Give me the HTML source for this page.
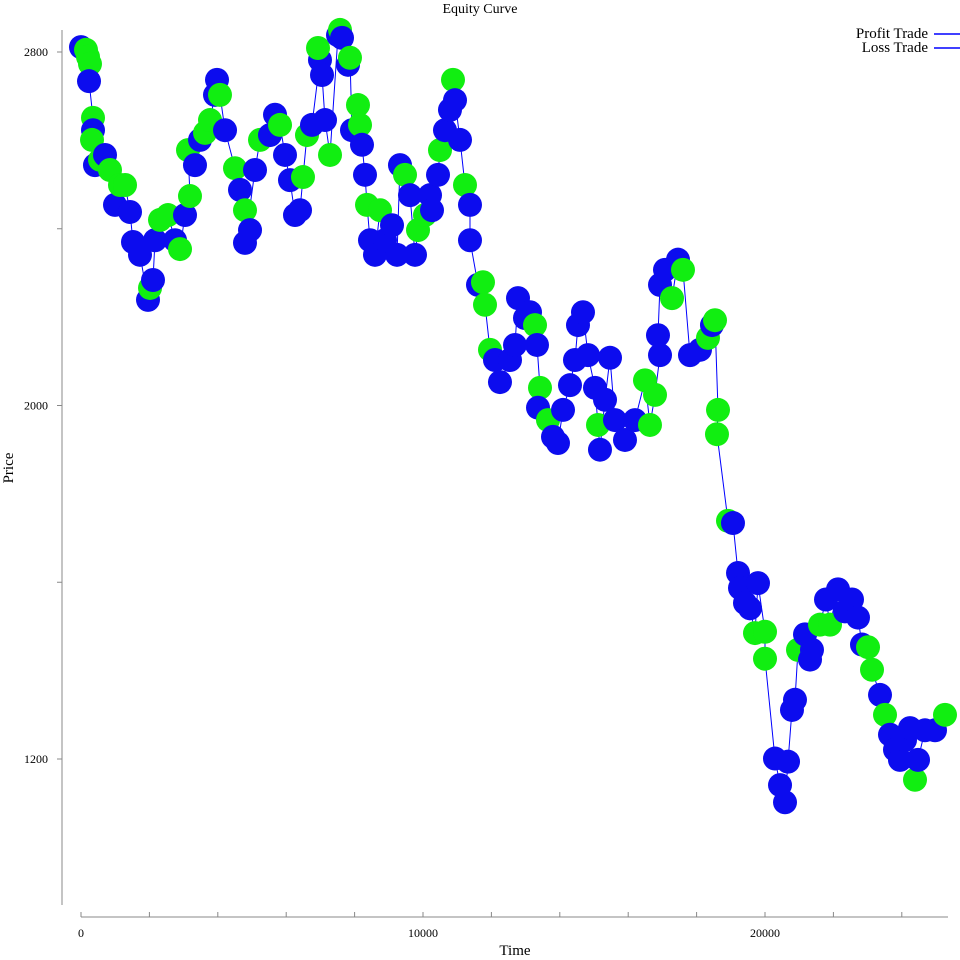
<!DOCTYPE html>
<html><head><meta charset="utf-8"><style>
body{margin:0;background:#fff}
svg{display:block;font-family:"Liberation Serif",serif}
</style></head><body>
<svg id="chart" width="960" height="960" viewBox="0 0 960 960">
<text x="480" y="13" text-anchor="middle" font-size="14">Equity Curve</text>
<text transform="translate(13,468) rotate(-90)" text-anchor="middle" font-size="15">Price</text>
<text x="515" y="955" text-anchor="middle" font-size="15">Time</text>
<g>
<text x="928" y="38" text-anchor="end" font-size="15">Profit Trade</text>
<line x1="934" x2="960" y1="34" y2="34" stroke="#0000ff" stroke-width="1.5"/>
<text x="928" y="52" text-anchor="end" font-size="15">Loss Trade</text>
<line x1="934" x2="960" y1="48" y2="48" stroke="#0000ff" stroke-width="1.5"/>
</g>
<g id="axes"></g>
<g id="series"></g>
</svg>
<script>
const times=[0,146,205,263,234,351,351,322,409,556,702,848,994,1140,1287,1433,1520,1725,1959,2018,2105,2164,2310,2544,2749,2895,3041,3187,3129,3333,3480,3626,3772,3918,3977,4064,4211,4503,4649,4795,4942,4795,5088,5234,5526,5673,5819,5965,6111,6257,6404,6491,6608,6754,6988,6930,7047,7135,7281,7515,7573,7632,7807,7865,7924,8099,8158,8216,8304,8363,8450,8596,8743,8889,9094,9240,9327,9474,9620,9766,9854,10058,10205,10263,10439,10497,10643,10789,10877,10936,11082,11228,11374,11374,11608,11754,11813,11959,12105,12251,12544,12690,12778,12982,13129,13275,13333,13421,13363,13655,13801,13947,14094,14298,14444,14532,14678,14825,15029,15117,15175,15322,15468,15614,15906,16199,16491,16637,16784,16930,16871,16930,17076,17281,17456,17602,17807,18099,18333,18450,18538,18626,18596,18918,19064,19211,19269,19415,19561,19708,19795,20000,20000,20292,20439,20585,20673,20789,20877,20965,21170,21316,21374,21608,21784,21901,22135,22339,22544,22719,22836,23012,23129,23363,23509,23655,23801,23947,24094,24240,24386,24474,24678,24971,25263];
const prices=[2811,2805,2789,2773,2734,2651,2623,2601,2544,2556,2567,2533,2454,2499,2499,2438,2370,2341,2239,2266,2284,2374,2420,2431,2374,2354,2431,2474,2578,2544,2601,2617,2646,2703,2737,2703,2623,2537,2488,2442,2397,2368,2533,2601,2612,2658,2635,2567,2510,2431,2442,2517,2612,2635,2782,2809,2748,2646,2567,2838,2850,2832,2771,2787,2623,2680,2635,2590,2522,2454,2374,2341,2442,2374,2408,2341,2544,2522,2476,2341,2397,2431,2476,2442,2522,2578,2623,2669,2737,2691,2601,2499,2454,2374,2273,2279,2228,2126,2103,2053,2103,2137,2243,2198,2211,2182,2137,2040,1995,1967,1929,1915,1990,2046,2103,2182,2211,2114,2040,1956,1900,2013,2108,1967,1922,1967,2057,1956,2024,2114,2159,2273,2307,2243,2330,2307,2114,2126,2153,2182,2193,1990,1935,1739,1734,1621,1587,1553,1541,1485,1598,1488,1427,1201,1141,1102,1194,1311,1334,1447,1482,1425,1447,1504,1561,1504,1584,1534,1561,1520,1459,1453,1402,1345,1300,1255,1221,1198,1243,1270,1153,1198,1265,1265,1300];
const outcomes="LPPPLPLPLPLPLPPLLLLPLLPPLPLPPLLPPLLPLPLPLLLPLLPLLLLPPLLPLLPLPLLPLPPLLPLLPLLLLPLLPPLLLPLLPLLPLLLPPPLLLLLLLPLPLPLLLLLLLLLPLLLLLLPPPLLLLPLPLLPLPPPPLLLLLPLPPLLLLLLPLLLPLPLLLLLPPLPLLLLLPLLLPLP";
const xTicks=[0,10000,20000], yTicks=[1200,2000,2800];
const X=t=>81+t*0.0342, Y=p=>52+(2800-p)*353.5/800;
const NS="http://www.w3.org/2000/svg";
const ax=document.getElementById('axes'), sr=document.getElementById('series');
function mk(tag,attrs,parent){const e=document.createElementNS(NS,tag);for(const k in attrs)e.setAttribute(k,attrs[k]);parent.appendChild(e);return e;}
let l=mk('line',{x1:62,x2:62,y1:30,y2:905,stroke:'#888'},ax);


l=mk('line',{x1:81,x2:948,y1:917,y2:917,stroke:'#888'},ax);


for(let t=0;t<=26000;t+=2000){const x=X(t);if(x>948)break;
 const tk=mk('line',{x1:x,x2:x,y1:912,y2:917,stroke:'#888'},ax);
 
 }
xTicks.forEach(t=>{const tx=mk('text',{x:X(t),y:937,'text-anchor':'middle','font-size':12},ax);tx.textContent=t;
 
 });
for(let p=800;p<=2800;p+=400){const y=Y(p);if(y>905)continue;
 const tk=mk('line',{x1:57,x2:62,y1:y,y2:y,stroke:'#888'},ax);
 
 }
yTicks.forEach(p=>{const tx=mk('text',{x:48,y:Y(p)+4,'text-anchor':'end','font-size':12},ax);tx.textContent=p;
 
 });
const pl=mk('polyline',{points:times.map((t,i)=>X(t)+','+Y(prices[i])).join(' '),fill:'none',stroke:'#0000ff','stroke-width':1},sr);


times.forEach((t,i)=>{const prof=outcomes[i]==='P';
 const c=mk('circle',{cx:X(t),cy:Y(prices[i]),r:12,fill:prof?'#11ee11':'#0c0cee'},sr);
 
 });
</script>
</body></html>
